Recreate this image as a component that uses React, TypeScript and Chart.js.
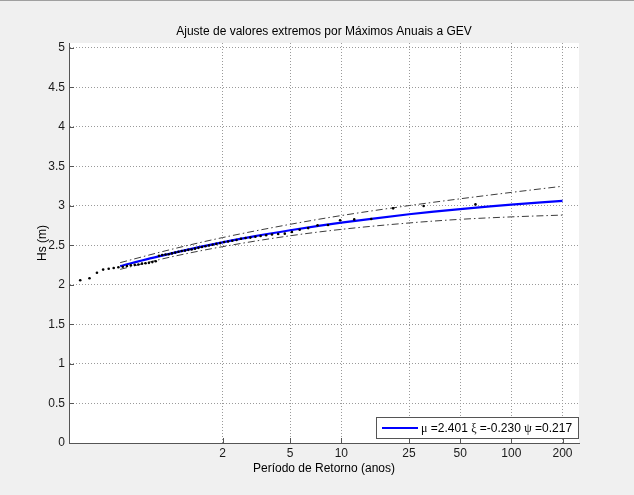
import React, { useEffect, useRef } from "react";
import { Chart, registerables } from "chart.js";

Chart.register(...registerables);

// ---- text ----
const TITLE = "Ajuste de valores extremos por Máximos Anuais a GEV";
const X_LABEL = "Período de Retorno (anos)";
const Y_LABEL = "Hs (m)";
const LEGEND_LABEL = "μ =2.401 ξ =-0.230 ψ =0.217";

// ---- axes ----
const X_TICKS = [2, 5, 10, 25, 50, 100, 200];
const X_MIN = 0.25;
const X_MAX = 250;
const Y_MIN = 0;
const Y_MAX = 5.063;
const Y_STEP = 0.5;

// ---- observed annual maxima (return period, Hs) ----
const OBS_T = [
  0.291, 0.33, 0.365, 0.397, 0.428, 0.458, 0.488, 0.518, 0.548, 0.578,
  0.609, 0.64, 0.672, 0.705, 0.738, 0.773, 0.809, 0.846, 0.884, 0.924,
  0.965, 1.008, 1.054, 1.101, 1.151, 1.203, 1.258, 1.316, 1.378, 1.443,
  1.512, 1.586, 1.665, 1.749, 1.84, 1.937, 2.043, 2.157, 2.282, 2.418,
  2.568, 2.733, 2.916, 3.121, 3.35, 3.61, 3.908, 4.25, 4.649, 5.12,
  5.685, 6.378, 7.241, 8.347, 9.833, 11.905, 14.99, 20.16, 30.49, 61.5,
];
const OBS_HS = [
  2.06, 2.085, 2.155, 2.195, 2.205, 2.215, 2.225, 2.23, 2.24, 2.25,
  2.255, 2.26, 2.27, 2.275, 2.28, 2.29, 2.3, 2.37, 2.38, 2.385,
  2.39, 2.4, 2.41, 2.42, 2.43, 2.435, 2.445, 2.45, 2.46, 2.47,
  2.48, 2.49, 2.5, 2.51, 2.52, 2.53, 2.545, 2.55, 2.56, 2.57,
  2.585, 2.595, 2.6, 2.61, 2.62, 2.63, 2.64, 2.645, 2.65, 2.67,
  2.7, 2.72, 2.755, 2.76, 2.82, 2.83, 2.835, 2.97, 3.0, 3.02,
];

// ---- fitted GEV curve ----
const FIT_T = [0.5, 0.75, 1, 1.5, 2, 3, 5, 7.5, 10, 15, 25, 35, 50, 75, 100, 150, 200];
const FIT_HS = [
  2.238, 2.337, 2.401, 2.485, 2.54, 2.612, 2.693, 2.751, 2.789, 2.838,
  2.895, 2.928, 2.961, 2.995, 3.017, 3.046, 3.065,
];

// ---- confidence bands ----
const CI_T = [0.5, 1, 2, 5, 10, 25, 50, 100, 200];
const CI_UPPER = [2.283, 2.451, 2.6, 2.768, 2.879, 3.005, 3.091, 3.172, 3.25];
const CI_LOWER = [2.198, 2.356, 2.485, 2.623, 2.704, 2.785, 2.831, 2.862, 2.885];

const SANS = '"Liberation Sans", Arial, Helvetica, sans-serif';
const SERIF = '"Liberation Serif", "DejaVu Serif", serif';
const FIT_COLOR = "#0000ff";
const AXIS_COLOR = "#555555";
const GREEK = /[μξψ]/;

const bgPlugin = {
  id: "plotBg",
  beforeDraw(chart: any) {
    const { ctx, chartArea: a, width } = chart;
    ctx.save();
    ctx.strokeStyle = "#a0a0a0";
    ctx.lineWidth = 1;
    ctx.beginPath();
    ctx.moveTo(0, 0.5);
    ctx.lineTo(width, 0.5);
    ctx.stroke();
    ctx.fillStyle = "#ffffff";
    ctx.fillRect(a.left, a.top, a.right - a.left, a.bottom - a.top);
    ctx.restore();
  },
};

const innerTicksPlugin = {
  id: "innerTicks",
  afterDraw(chart: any) {
    const { ctx, chartArea: a, scales } = chart;
    const len = 5;
    ctx.save();
    ctx.strokeStyle = AXIS_COLOR;
    ctx.lineWidth = 1;
    ctx.beginPath();
    scales.x.ticks.forEach((t: any) => {
      const px = Math.round(scales.x.getPixelForValue(t.value)) + 0.5;
      ctx.moveTo(px, a.bottom);
      ctx.lineTo(px, a.bottom - len);
    });
    scales.y.ticks.forEach((t: any) => {
      const py = Math.round(scales.y.getPixelForValue(t.value)) + 0.5;
      ctx.moveTo(a.left, py);
      ctx.lineTo(a.left + len, py);
    });
    ctx.stroke();
    ctx.restore();
  },
};

const boxLegendPlugin = {
  id: "boxLegend",
  afterDraw(chart: any) {
    const { ctx, chartArea: a } = chart;
    const sans = `12px ${SANS}`;
    const serif = `12px ${SERIF}`;
    const parts = LEGEND_LABEL.split(/([μξψ])/).filter((s) => s.length > 0);
    ctx.save();
    let tw = 0;
    const widths = parts.map((p) => {
      ctx.font = GREEK.test(p) ? serif : sans;
      const w = ctx.measureText(p).width;
      tw += w;
      return w;
    });
    const padL = 6, sampleLen = 36, gap = 3, padR = 6, h = 21;
    const w = Math.round(padL + sampleLen + gap + tw + padR);
    const right = Math.round(a.right) - 1;
    const bottom = Math.round(a.bottom) - 5;
    const left = right - w;
    const top = bottom - h;
    ctx.fillStyle = "#ffffff";
    ctx.fillRect(left, top, w, h);
    ctx.strokeStyle = AXIS_COLOR;
    ctx.lineWidth = 1;
    ctx.strokeRect(left + 0.5, top + 0.5, w, h);
    const cy = top + h / 2 + 0.5;
    ctx.strokeStyle = FIT_COLOR;
    ctx.lineWidth = 2;
    ctx.beginPath();
    ctx.moveTo(left + padL, cy);
    ctx.lineTo(left + padL + sampleLen, cy);
    ctx.stroke();
    let x = left + padL + sampleLen + gap;
    ctx.fillStyle = "#000000";
    ctx.textBaseline = "middle";
    ctx.textAlign = "left";
    parts.forEach((p, i) => {
      ctx.font = GREEK.test(p) ? serif : sans;
      ctx.fillText(p, x, cy + 1);
      x += widths[i];
    });
    ctx.restore();
  },
};

export default function App() {
  const ref = useRef<HTMLCanvasElement>(null);

  useEffect(() => {
    if (!ref.current) return;
    Chart.defaults.font.family = SANS;
    Chart.defaults.font.size = 12;
    const tickFont = { family: SANS, size: 12 };
    const chart = new Chart(ref.current, {
      type: "scatter",
      data: {
        datasets: [
          {
            label: "Observados",
            data: OBS_T.map((x, i) => ({ x, y: OBS_HS[i] })),
            showLine: false,
            pointRadius: 1.3,
            pointBorderWidth: 0,
            pointBackgroundColor: "#000000",
            order: 0,
          },
          {
            label: LEGEND_LABEL,
            data: FIT_T.map((x, i) => ({ x, y: FIT_HS[i] })),
            showLine: true,
            pointRadius: 0,
            borderColor: FIT_COLOR,
            borderWidth: 2.2,
            cubicInterpolationMode: "monotone",
            order: 1,
          },
          {
            label: "Superior",
            data: CI_T.map((x, i) => ({ x, y: CI_UPPER[i] })),
            showLine: true,
            pointRadius: 0,
            borderColor: "#3c3c3c",
            borderWidth: 1,
            borderDash: [7, 3, 1.5, 3],
            cubicInterpolationMode: "monotone",
            order: 2,
          },
          {
            label: "Inferior",
            data: CI_T.map((x, i) => ({ x, y: CI_LOWER[i] })),
            showLine: true,
            pointRadius: 0,
            borderColor: "#3c3c3c",
            borderWidth: 1,
            borderDash: [7, 3, 1.5, 3],
            cubicInterpolationMode: "monotone",
            order: 3,
          },
        ],
      } as any,
      options: {
        animation: false,
        responsive: false,
        devicePixelRatio: 1,
        events: [],
        layout: { padding: { left: 0, right: 55, top: 0, bottom: 0 } },
        plugins: {
          legend: { display: false },
          tooltip: { enabled: false },
          title: {
            display: true,
            text: TITLE,
            color: "#000000",
            fullSize: false,
            font: { family: SANS, size: 12, weight: "normal" },
            padding: { top: 24, bottom: 4.6 },
          },
        },
        scales: {
          x: {
            type: "logarithmic",
            min: X_MIN,
            max: X_MAX,
            afterBuildTicks: (scale: any) => {
              scale.ticks = X_TICKS.map((value) => ({ value }));
            },
            afterFit: (scale: any) => {
              scale.height = 52;
            },
            ticks: {
              autoSkip: false,
              maxRotation: 0,
              padding: 3,
              color: "#1a1a1a",
              font: tickFont,
              callback: (v: any) => String(v),
            },
            grid: { color: "#9a9a9a", lineWidth: 1, drawTicks: false },
            border: { display: true, color: AXIS_COLOR, width: 1, dash: [1, 2] },
            title: {
              display: true,
              text: X_LABEL,
              color: "#000000",
              font: { family: SANS, size: 12 },
              padding: { top: 0, bottom: 19 },
            },
          },
          y: {
            type: "linear",
            min: Y_MIN,
            max: Y_MAX,
            afterFit: (scale: any) => {
              scale.width = 69;
            },
            ticks: {
              stepSize: Y_STEP,
              includeBounds: false,
              autoSkip: false,
              padding: 4,
              color: "#1a1a1a",
              font: tickFont,
              callback: (v: any) => String(v),
            },
            grid: { color: "#9a9a9a", lineWidth: 1, drawTicks: false },
            border: { display: true, color: AXIS_COLOR, width: 1, dash: [1, 2] },
            title: {
              display: true,
              text: Y_LABEL,
              color: "#000000",
              font: { family: SANS, size: 12 },
              padding: { top: 35, bottom: 0 },
            },
          },
        },
      } as any,
      plugins: [bgPlugin, innerTicksPlugin, boxLegendPlugin],
    });
    return () => chart.destroy();
  }, []);

  return (
    <div
      style={{
        position: "absolute",
        left: 0,
        top: 0,
        width: 634,
        height: 495,
        background: "#f0f0f0",
        overflow: "hidden",
      }}
    >
      <canvas
        ref={ref}
        width={634}
        height={495}
        style={{ display: "block", width: 634, height: 495 }}
      />
    </div>
  );
}
